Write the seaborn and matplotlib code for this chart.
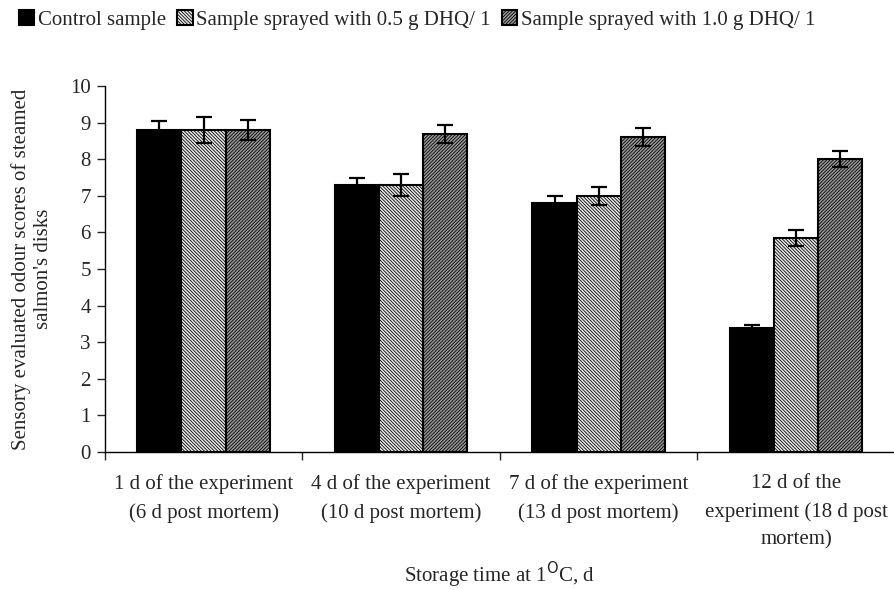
import numpy as np
import pandas as pd
import matplotlib
matplotlib.use("Agg")
import matplotlib.pyplot as plt
import seaborn as sns

# values
days = ["1 d of the experiment\n(6 d post mortem)",
        "4 d of the experiment\n(10 d post mortem)",
        "7 d of the experiment\n(13 d post mortem)",
        "12 d of the\nexperiment (18 d post\nmortem)"]
samples = ["Control sample",
           "Sample sprayed with 0.5 g DHQ/ 1",
           "Sample sprayed with 1.0 g DHQ/ 1"]
control = [8.8, 7.3, 6.8, 3.4]
dhq_05 = [8.8, 7.3, 7.0, 5.85]
dhq_10 = [8.8, 8.7, 8.6, 8.0]
err_control = [0.25, 0.2, 0.2, 0.07]
err_05 = [0.35, 0.3, 0.25, 0.23]
err_10 = [0.27, 0.25, 0.25, 0.22]

df = pd.DataFrame({
    "day": days * 3,
    "sample": [s for s in samples for _ in days],
    "score": control + dhq_05 + dhq_10,
})
errs = [err_control, err_05, err_10]

sns.set_style("white")
plt.rcParams["font.family"] = ["Liberation Serif", "DejaVu Serif"]
plt.rcParams["hatch.linewidth"] = 0.6
fs = 15

fig = plt.figure(figsize=(8.95, 5.9), dpi=100)
ax = fig.add_axes([0.117, 0.234, 0.883, 0.62])

colors = ["black", "#ececec", "#9a9a9a"]
hatches = [None, "\\" * 10, "/" * 10]
sns.barplot(data=df, x="day", y="score", hue="sample", order=days,
            hue_order=samples, palette=colors, width=0.67, gap=0,
            errorbar=None, edgecolor="black", linewidth=1.5,
            legend=True, ax=ax)

for cont, h, e in zip(ax.containers, hatches, errs):
    xs = []
    ys = []
    for bar in cont:
        if h:
            bar.set_hatch(h)
        xs.append(bar.get_x() + bar.get_width() / 2)
        ys.append(bar.get_height())
    ax.errorbar(xs, ys, yerr=e, fmt="none", ecolor="black",
                elinewidth=1.6, capsize=6, capthick=1.6)

# legend on top of figure
handles, labels = ax.get_legend_handles_labels()
for hnd, h in zip(handles, hatches):
    if h:
        hnd.set_hatch(h)
    hnd.set_edgecolor("black")
ax.get_legend().remove()
fig.legend(handles, labels, loc="upper left", bbox_to_anchor=(0.0, 1.015),
           ncol=3, frameon=False, fontsize=fs, handlelength=0.75,
           handleheight=0.75, handletextpad=0.15, columnspacing=0.55)

ax.set_xlim(-0.5, 3.5)
ax.set_ylim(0, 10)
ax.set_yticks(range(0, 11))
ax.set_xticks(np.arange(-0.5, 4.0, 1.0))
ax.set_xticklabels([])
ax.set_xticks(range(4), minor=True)
ax.set_xticklabels(days, minor=True, fontsize=fs, linespacing=1.6)
ax.tick_params(axis="x", which="minor", length=0, pad=16)
ax.tick_params(axis="x", which="major", direction="out", length=6, width=1,
               bottom=True)
ax.tick_params(axis="y", direction="out", length=6, width=1, left=True,
               labelsize=fs, pad=4)

for s in ["top", "right"]:
    ax.spines[s].set_visible(False)
for s in ["left", "bottom"]:
    ax.spines[s].set_color("black")
    ax.spines[s].set_linewidth(1)

ax.set_ylabel("Sensory evaluated odour scores of steamed\nsalmon's disks",
              fontsize=fs, labelpad=12, linespacing=1.25)
ax.set_xlabel("Storage time at 1$^{\\mathrm{O}}$C, d", fontsize=fs, va="center")
ax.xaxis.set_label_coords(0.5, -0.335)

fig.savefig("out.png", dpi=100)
